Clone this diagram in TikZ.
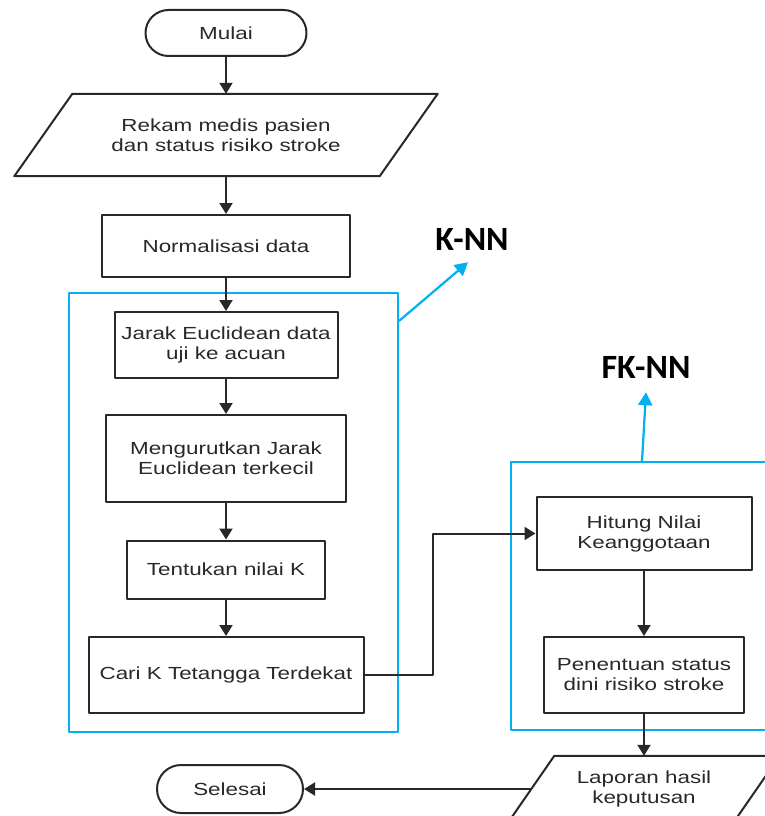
\documentclass[tikz,border=0pt]{standalone}
\usepackage{fontspec}
\setmainfont{Liberation Sans}
\newfontfamily\flowfont[FakeStretch=1.28]{Liberation Sans}
\newfontfamily\tagfont{Carlito}
\usetikzlibrary{arrows.meta}
\definecolor{groupblue}{RGB}{0,176,240}
\definecolor{ink}{RGB}{40,40,40}
\begin{document}
\begin{tikzpicture}[x=1pt,y=-1pt,line join=round,
  font=\flowfont\fontsize{17.5}{20}\selectfont,
  >={Triangle[length=11pt,width=13pt]},
  proc/.style={draw=ink,line width=2pt,text=ink,align=center,inner sep=0pt},
  term/.style={proc,rounded corners=23pt},
  io/.style={text=ink,align=center,inner sep=0pt},
  group/.style={draw=groupblue,line width=2pt,inner sep=0pt},
  flow/.style={draw=ink,line width=2pt,->},
  tag/.style={inner sep=2pt,font=\tagfont\bfseries\fontsize{34}{40}\selectfont},
  pointer/.style={groupblue,line width=2.2pt,-{Triangle[length=13pt,width=14pt]}}]
\def \slantA{29}
\def \slantB{23}
\useasboundingbox (0,0) rectangle (765,816);
% groups
\node[group,minimum width=329,minimum height=439] (knn) at (233.5,512.5) {};
\node[group,minimum width=264,minimum height=268] (fknn) at (643,596) {};
\node[tag] (knnlbl) at (472,239) {K-NN};
\node[tag] (fknnlbl) at (646,367) {FK-NN};
\draw[pointer] ([yshift=-29]knn.north east) -- ([xshift=-4,yshift=-10]knnlbl.south);
\draw[pointer] ([xshift=132]fknn.north west) -- ([yshift=-12]fknnlbl.south);
% flow
\node[term,minimum width=161,minimum height=46] (mulai) at (226,33) {Mulai};
\node[io,minimum width=365,minimum height=82] (rekam) at (226,135) {Rekam medis pasien\\dan status risiko stroke};
\draw[draw=ink,line width=2pt] ([xshift=\slantA]rekam.north west) -- ([xshift=\slantA]rekam.north east)
  -- ([xshift=-\slantA]rekam.south east) -- ([xshift=-\slantA]rekam.south west) -- cycle;
\node[proc,minimum width=248,minimum height=62] (norm) at (226,246) {Normalisasi data};
\node[proc,minimum width=223,minimum height=66] (jarak) at (226,345) {Jarak Euclidean data\\uji ke acuan};
\node[proc,minimum width=240,minimum height=87] (urut) at (226,458.5) {Mengurutkan Jarak\\Euclidean terkecil};
\node[proc,minimum width=198,minimum height=58] (tentukan) at (226,569.5) {Tentukan nilai K};
\node[proc,minimum width=275,minimum height=76] (cari) at (226,675) {Cari K Tetangga Terdekat};
\node[proc,minimum width=215,minimum height=73] (hitung) at (644,533.5) {Hitung Nilai\\Keanggotaan};
\node[proc,minimum width=200,minimum height=76] (tentu) at (644,675) {Penentuan status\\dini risiko stroke};
\node[io,minimum width=225,minimum height=66] (lapor) at (644,789) {Laporan hasil\\keputusan};
\draw[draw=ink,line width=2pt] ([xshift=\slantB]lapor.north west) -- ([xshift=\slantB]lapor.north east)
  -- ([xshift=-\slantB]lapor.south east) -- ([xshift=-\slantB]lapor.south west) -- cycle;
\node[term,minimum width=146,minimum height=48,rounded corners=24pt] (selesai) at (230,789) {Selesai};
\foreach \a/\b in {mulai/rekam,rekam/norm,norm/jarak,jarak/urut,urut/tentukan,tentukan/cari,hitung/tentu,tentu/lapor}
  \draw[flow] (\a.south) -- (\b.north);
\draw[flow] (cari.east) -- ++(68,0) |- (hitung.west);
\draw[flow] (lapor.west) -- (selesai.east);
\end{tikzpicture}
\end{document}
